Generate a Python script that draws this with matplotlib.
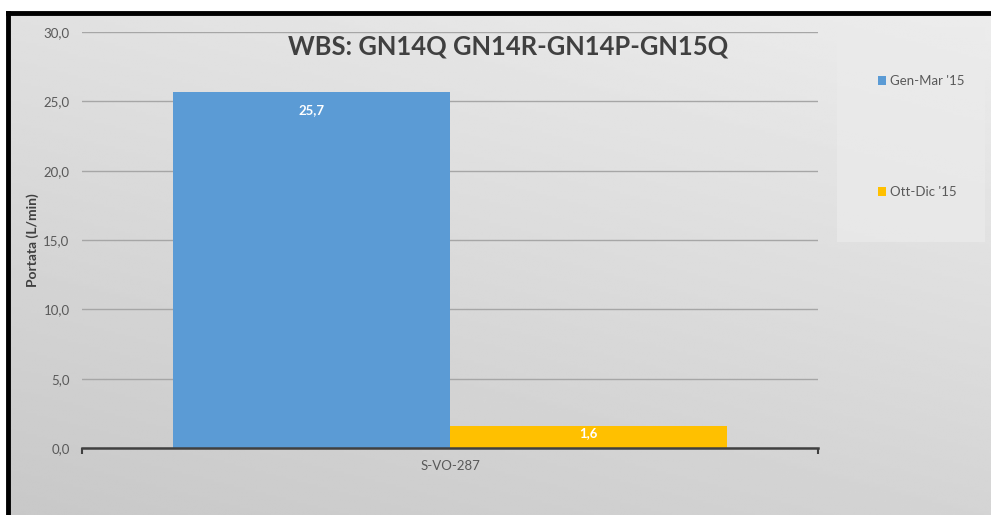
import matplotlib.pyplot as plt
import numpy as np
from matplotlib.patches import Rectangle

plt.rcParams['font.family'] = ['Lato', 'DejaVu Sans']

categories = ['S-VO-287']
series_names = ["Gen-Mar '15", "Ott-Dic '15"]
values_gen_mar = [25.7]
values_ott_dic = [1.6]
colors = ['#5b9bd5', '#ffc000']
yticks = [0, 5, 10, 15, 20, 25, 30]

W, H = 991, 515
fig = plt.figure(figsize=(W / 100, H / 100), dpi=100)
fig.patch.set_facecolor('white')

# gradient background, black frame only on top and left (rest runs off the picture)
bg = fig.add_axes([8 / W, -0.05, 1.05, 1.05 - 13 / H])
gx, gy = np.meshgrid(np.linspace(0, 1, 200), np.linspace(1, 0, 200))
grad = 0.78 + 0.05 * gx + 0.10 * gy
bg.imshow(grad, cmap='gray', vmin=0, vmax=1, aspect='auto',
          extent=[0, 1, 0, 1], interpolation='bilinear')
bg.set_xticks([])
bg.set_yticks([])
for s in bg.spines.values():
    s.set_color('black')
    s.set_linewidth(3.5)
bg.set_zorder(0)

# legend box
fig.patches.append(Rectangle((837 / W, 1 - 242 / H), 148 / W, 215 / H,
                             transform=fig.transFigure, facecolor='#ebebeb',
                             edgecolor='none', alpha=0.7, zorder=1))

ax = fig.add_axes([82 / W, 1 - 448 / H, 736 / W, 416 / H])
ax.set_facecolor('none')
ax.set_zorder(2)

x = np.arange(len(categories))
w = 0.3764
b1 = ax.bar(x - w / 2, values_gen_mar, w, color=colors[0], label=series_names[0], zorder=3)
b2 = ax.bar(x + w / 2, values_ott_dic, w, color=colors[1], label=series_names[1], zorder=3)

for bars in (b1, b2):
    for r in bars:
        v = r.get_height()
        off = -9 if v > 5 else -1  # points below bar top
        ax.annotate(f'{v:.1f}'.replace('.', ','), (r.get_x() + r.get_width() / 2, v),
                    xytext=(0, off), textcoords='offset points',
                    ha='center', va='top', color='white', fontsize=9.5, fontweight='bold', zorder=4)

ax.set_xlim(-0.5, 0.5)
ax.set_ylim(0, 30)
ax.set_yticks(yticks)
ax.set_yticklabels([f'{t:.1f}'.replace('.', ',') for t in yticks])
ax.set_xticks(x)
ax.set_xticklabels(categories)
ax.set_xticks([-0.5, 0.5], minor=True)
ax.tick_params(axis='x', which='major', length=0, pad=9, colors='#595959', labelsize=9.5)
ax.tick_params(axis='x', which='minor', length=4, width=1.5, color='#404040', direction='out')
ax.tick_params(axis='y', length=0, pad=9, colors='#595959', labelsize=9.5)
ax.grid(axis='y', color='#a6a6a6', linewidth=1)
ax.set_axisbelow(True)
for k in ('top', 'right', 'left'):
    ax.spines[k].set_visible(False)
ax.spines['bottom'].set_color('#404040')
ax.spines['bottom'].set_linewidth(1.8)
ax.spines['bottom'].set_zorder(5)

ax.set_ylabel('Portata (L/min)', fontsize=10, fontweight='bold', color='#404040', labelpad=3)

fig.text(508 / W, 1 - 47 / H, 'WBS: GN14Q GN14R-GN14P-GN15Q', ha='center', va='center',
         fontsize=18.4, fontweight='bold', color='#404040', zorder=5)

leg = ax.legend(loc='upper left', bbox_to_anchor=(866 / W, 1 - 63 / H),
                bbox_transform=fig.transFigure, frameon=False, fontsize=9.5,
                labelspacing=7.5, handlelength=0.65, handleheight=0.65,
                handletextpad=0.3)
for t in leg.get_texts():
    t.set_color('#595959')

fig.savefig('out.png', dpi=100)
